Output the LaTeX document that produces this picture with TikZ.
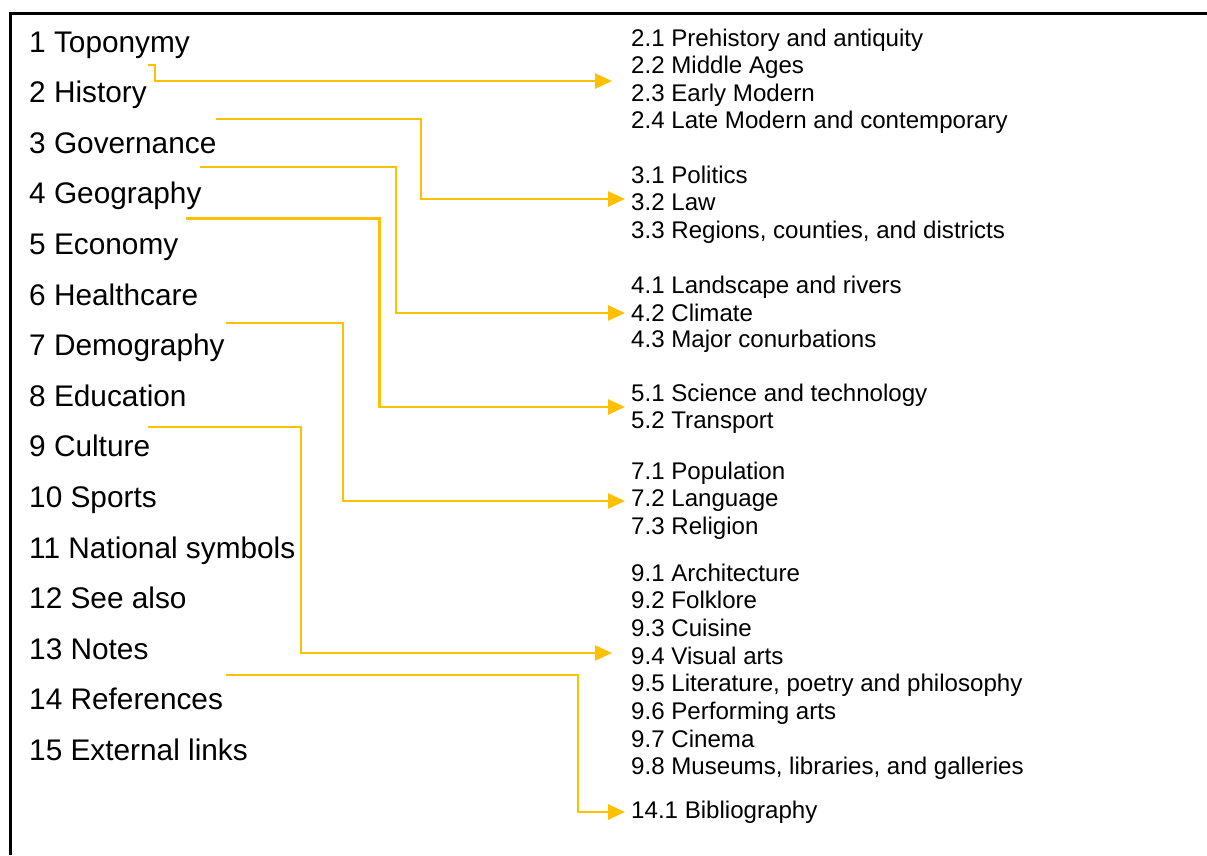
\documentclass[tikz,border=0pt]{standalone}
\usepackage{fontspec}
\setmainfont{Liberation Sans}
\usetikzlibrary{arrows.meta}
\definecolor{linkgold}{HTML}{FFC000}
\begin{document}
\begin{tikzpicture}[x=1pt,y=-1pt,
  topitem/.style={anchor=base west,inner sep=0pt,font=\fontsize{29.8}{35}\selectfont},
  subitem/.style={anchor=base west,inner sep=0pt,font=\fontsize{24.1}{28}\selectfont},
  conn/.style={draw=linkgold,line width=2.8pt,-{Triangle[length=17pt,width=15pt]}},
  frame/.style={line width=3pt}]
\useasboundingbox (0,0) rectangle (1207,855);
% outer frame (open to the right and bottom)
\draw[frame] (10,855) -- (10,13) -- (1207,13);

% main sections
\node[topitem] (i1)  at (29,52.0)  {1 Toponymy};
\node[topitem] (i2)  at (29,102.6) {2 History};
\node[topitem] (i3)  at (29,153.2) {3 Governance};
\node[topitem] (i4)  at (29,203.8) {4 Geography};
\node[topitem] (i5)  at (29,254.4) {5 Economy};
\node[topitem] (i6)  at (29,305.0) {6 Healthcare};
\node[topitem] (i7)  at (29,355.6) {7 Demography};
\node[topitem] (i8)  at (29,406.2) {8 Education};
\node[topitem] (i9)  at (29,456.8) {9 Culture};
\node[topitem] (i10) at (29,507.4) {10 Sports};
\node[topitem] (i11) at (29,558.0) {11 National symbols};
\node[topitem] (i12) at (29,608.6) {12 See also};
\node[topitem] (i13) at (29,659.2) {13 Notes};
\node[topitem] (i14) at (29,709.8) {14 References};
\node[topitem] (i15) at (29,760.4) {15 External links};

% subsections
\node[subitem] (s21) at (631,46.7)  {2.1 Prehistory and antiquity};
\node[subitem] (s22) at (631,73.7)  {2.2 Middle Ages};
\node[subitem] (s23) at (631,101.0) {2.3 Early Modern};
\node[subitem] (s24) at (631,128.3) {2.4 Late Modern and contemporary};

\node[subitem] (s31) at (631,183) {3.1 Politics};
\node[subitem] (s32) at (631,210) {3.2 Law};
\node[subitem] (s33) at (631,238) {3.3 Regions, counties, and districts};

\node[subitem] (s41) at (631,293) {4.1 Landscape and rivers};
\node[subitem] (s42) at (631,321) {4.2 Climate};
\node[subitem] (s43) at (631,347) {4.3 Major conurbations};

\node[subitem] (s51) at (631,401) {5.1 Science and technology};
\node[subitem] (s52) at (631,428) {5.2 Transport};

\node[subitem] (s71) at (631,479) {7.1 Population};
\node[subitem] (s72) at (631,506) {7.2 Language};
\node[subitem] (s73) at (631,534) {7.3 Religion};

\node[subitem] (s91) at (631,581.0) {9.1 Architecture};
\node[subitem] (s92) at (631,608.7) {9.2 Folklore};
\node[subitem] (s93) at (631,636.4) {9.3 Cuisine};
\node[subitem] (s94) at (631,664.0) {9.4 Visual arts};
\node[subitem] (s95) at (631,691.7) {9.5 Literature, poetry and philosophy};
\node[subitem] (s96) at (631,719.3) {9.6 Performing arts};
\node[subitem] (s97) at (631,747.0) {9.7 Cinema};
\node[subitem] (s98) at (631,774.7) {9.8 Museums, libraries, and galleries};

\node[subitem] (s141) at (631,818.5) {14.1 Bibliography};

% connector end points
\coordinate (a2)  at (148,65);    \coordinate (b2)  at (612,81);
\coordinate (a3)  at (216,119);   \coordinate (b3)  at (625,199);
\coordinate (a4)  at (200,167);   \coordinate (b4)  at (625,313);
\coordinate (a5)  at (186,218.5); \coordinate (b5)  at (625,407);
\coordinate (a7)  at (226,323);   \coordinate (b7)  at (625,501);
\coordinate (a9)  at (148,427);   \coordinate (b9)  at (612,653);
\coordinate (a14) at (226,675);   \coordinate (b14) at (625,812);

% section -> subsection links
\draw[conn] (a2)  -- ++(7,0)   |- (b2);
\draw[conn] (a3)  -- ++(205,0) |- (b3);
\draw[conn] (a4)  -- ++(196,0) |- (b4);
\draw[conn] (a5)  -- ++(193.5,0) |- (b5);
\draw[conn] (a7)  -- ++(117,0) |- (b7);
\draw[conn] (a9)  -- ++(153,0) |- (b9);
\draw[conn] (a14) -- ++(352,0) |- (b14);
\end{tikzpicture}
\end{document}
